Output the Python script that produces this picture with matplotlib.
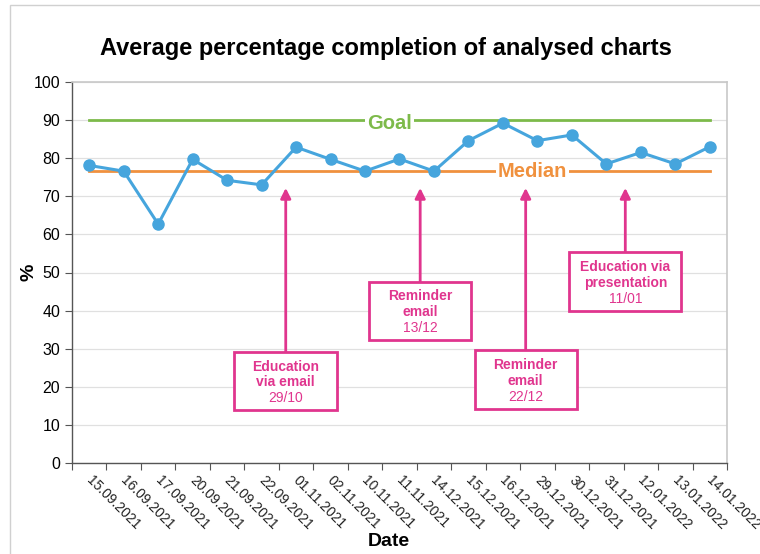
import matplotlib
matplotlib.use("Agg")
import matplotlib.pyplot as plt
from matplotlib.patches import Rectangle

plt.rcParams['font.family'] = ['Liberation Sans', 'DejaVu Sans']

dates = ["15.09.2021", "16.09.2021", "17.09.2021", "20.09.2021", "21.09.2021",
         "22.09.2021", "01.11.2021", "02.11.2021", "10.11.2021", "11.11.2021",
         "14.12.2021", "15.12.2021", "16.12.2021", "29.12.2021", "30.12.2021",
         "31.12.2021", "12.01.2022", "13.01.2022", "14.01.2022"]
values = [78.1, 76.6, 62.7, 79.7, 74.2, 73.0, 82.9, 79.7, 76.6, 79.8,
          76.6, 84.6, 89.2, 84.6, 86.1, 78.5, 81.5, 78.5, 83.0]
goal = 90
median = 76.7

ann_lines = [("Education", "via email", "29/10"),
             ("Reminder", "email", "13/12"),
             ("Reminder", "email", "22/12"),
             ("Education via", "presentation", "11/01")]
ann_x = [5.7, 9.6, 12.66, 15.55]
ann_box_top = [29.1, 47.5, 29.7, 55.4]
ann_box_bottom = [13.9, 32.3, 14.3, 39.9]
ann_tip = 72.2

BLUE = "#46A5DD"
GREEN = "#7DBA4A"
ORANGE = "#F0913E"
PINK = "#E0358E"

fig = plt.figure(figsize=(7.6, 5.54), dpi=100)
fig.patches.append(Rectangle((10/760, -0.01), 1.0, 1 - 5/554 + 0.01, transform=fig.transFigure,
                             fill=False, edgecolor="#d0d0d0", linewidth=1.0))
ax = fig.add_axes([72/760, 1 - 463/554, (727 - 72)/760, (463 - 82)/554])

x = list(range(len(dates)))
ax.set_xlim(-0.5, len(dates) - 0.5)
ax.set_ylim(0, 100)
ax.set_yticks(range(0, 101, 10))
ax.grid(axis='y', color="#e0e0e0", linewidth=0.9)
ax.set_axisbelow(True)

ax.plot([x[0], x[-1]], [goal, goal], color=GREEN, linewidth=2.0, zorder=2)
ax.plot([x[0], x[-1]], [median, median], color=ORANGE, linewidth=2.0, zorder=2)
ax.text(8.7, goal - 0.8, "Goal", color=GREEN, fontsize=14.5, fontweight='bold', ha='center', va='center',
        bbox=dict(facecolor='white', edgecolor='none', pad=1.5), zorder=3)
ax.text(12.85, median - 0.3, "Median", color=ORANGE, fontsize=14.5, fontweight='bold', ha='center', va='center',
        bbox=dict(facecolor='white', edgecolor='none', pad=1.5), zorder=3)

ax.plot(x, values, color=BLUE, linewidth=2.2, marker='o', markersize=8, zorder=4)

box_w = [3.0, 2.95, 2.95, 3.25]
for (l1, l2, l3), xa, top, bot, w in zip(ann_lines, ann_x, ann_box_top, ann_box_bottom, box_w):
    ax.annotate("", xy=(xa, ann_tip), xytext=(xa, top),
                arrowprops=dict(arrowstyle="-|>,head_width=0.3,head_length=0.6", color=PINK,
                                linewidth=2.0, shrinkA=0, shrinkB=0), zorder=5)
    ax.add_patch(Rectangle((xa - w/2, bot), w, top - bot, facecolor='white', edgecolor=PINK,
                           linewidth=2.0, zorder=5))
    yc = (top + bot) / 2
    for off, txt, wt in [(11.5, l1, 'bold'), (0, l2, 'bold'), (-11.5, l3, 'normal')]:
        ax.annotate(txt, xy=(xa, yc), xytext=(0, off - 1), textcoords='offset points',
                    color=PINK, fontsize=10, fontweight=wt, ha='center', va='center', zorder=6)

ax.set_xticks([i - 0.5 for i in range(len(dates) + 1)])
ax.set_xticklabels([])
for i, d in enumerate(dates):
    ax.text(i + 0.12, -2.6, d, rotation=-45, rotation_mode='anchor', ha='left', va='top',
            fontsize=10, color="#222222", clip_on=False)

for s in ['top', 'right']:
    ax.spines[s].set_color("#c8c8c8")
    ax.spines[s].set_linewidth(1.2)
for s in ['left', 'bottom']:
    ax.spines[s].set_color("#555555")
    ax.spines[s].set_linewidth(1.0)
ax.tick_params(axis='both', direction='out', length=5, color="#555555", labelsize=11.5)

ax.set_ylabel("%", fontsize=14, fontweight='bold', labelpad=-3)
fig.text(389/760, 1 - 541/554, "Date", fontsize=14, fontweight='bold', ha='center', va='center')
fig.text(386/760, 1 - 48/554, "Average percentage completion of analysed charts",
         fontsize=17, fontweight='bold', ha='center', va='center')

fig.savefig("out.png", dpi=100)
